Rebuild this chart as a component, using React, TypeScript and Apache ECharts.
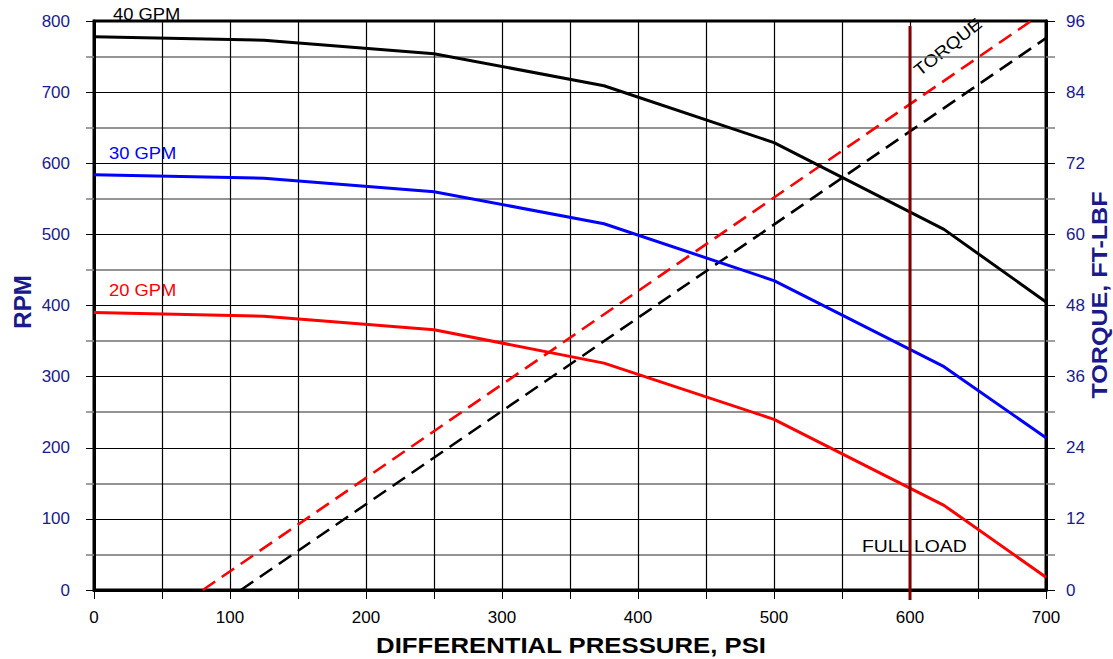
import React, { useEffect, useRef } from "react";
import * as echarts from "echarts";

const pressure = [0, 125, 250, 375, 500, 625, 700];
const rpm40 = [778, 773, 754, 709, 629, 507, 405];
const rpm30 = [584, 579, 560, 515, 435, 314, 214];
const rpm20 = [390, 385, 366, 319, 240, 119, 18];

const torqueRedX = [80, 689];
const torqueRedY = [0, 96];
const torqueBlackX = [108, 700];
const torqueBlackY = [0, 93.1];

const fullLoadX = [600, 600];
const fullLoadY = [-14, 793];

const NAVY = "#1a1a8c";
const FONT = "'Liberation Sans', Arial, sans-serif";

const pairs = (xs: number[], ys: number[]) => xs.map((x, i) => [x, ys[i]]);

export default function App() {
  const ref = useRef<HTMLDivElement>(null);
  useEffect(() => {
    if (!ref.current) return;
    const chart = echarts.init(ref.current, null, { renderer: "svg" });
    const curve = (name: string, ys: number[], color: string) => ({
      name,
      type: "line",
      yAxisIndex: 0,
      data: pairs(pressure, ys),
      symbol: "none",
      lineStyle: { color, width: 3 },
      z: 5,
    });
    const label = (text: string, x: number, y: number, fill: string) => ({
      type: "text",
      x,
      y,
      scaleX: 1.08,
      style: { text, fill, font: `17px ${FONT}`, align: "left", verticalAlign: "middle" },
    });
    chart.setOption({
      animation: false,
      backgroundColor: "#fff",
      textStyle: { fontFamily: FONT },
      grid: { left: 94, right: 67, top: 21, bottom: 69, show: true, borderColor: "#000", borderWidth: 3 },
      xAxis: {
        type: "value",
        min: 0,
        max: 700,
        interval: 100,
        axisLine: { lineStyle: { color: "#000", width: 3 } },
        axisTick: { show: true, length: 9, lineStyle: { color: "#000", width: 1 } },
        minorTick: { show: true, splitNumber: 2, length: 9, lineStyle: { color: "#000", width: 1 } },
        axisLabel: { color: "#000", fontSize: 17, margin: 19, fontFamily: FONT },
        splitLine: { show: true, lineStyle: { color: "#000", width: 1.2 } },
        minorSplitLine: { show: true, lineStyle: { color: "#000", width: 1.2 } },
      },
      yAxis: [
        {
          type: "value",
          min: 0,
          max: 800,
          interval: 100,
          axisLine: { show: true, lineStyle: { color: "#000", width: 3 } },
          axisTick: { show: true, length: 8, lineStyle: { color: "#000", width: 1 } },
          minorTick: { show: true, splitNumber: 2, length: 8, lineStyle: { color: "#808080", width: 1.5 } },
          axisLabel: { color: NAVY, fontSize: 17, margin: 24, fontFamily: FONT },
          splitLine: { show: true, lineStyle: { color: "#000", width: 1.2 } },
          minorSplitLine: { show: true, lineStyle: { color: "#707070", width: 1.6 } },
        },
        {
          type: "value",
          position: "right",
          min: 0,
          max: 96,
          interval: 12,
          axisLine: { show: true, lineStyle: { color: "#000", width: 3 } },
          axisTick: { show: true, length: 9, lineStyle: { color: "#000", width: 1 } },
          minorTick: { show: true, splitNumber: 2, length: 9, lineStyle: { color: "#808080", width: 1.5 } },
          axisLabel: { color: NAVY, fontSize: 17, margin: 20, fontFamily: FONT },
          splitLine: { show: false },
        },
      ],
      series: [
        curve("40 GPM", rpm40, "#000"),
        curve("30 GPM", rpm30, "#0000ff"),
        curve("20 GPM", rpm20, "#ff0000"),
        {
          name: "Torque (red)",
          type: "line",
          yAxisIndex: 1,
          data: pairs(torqueRedX, torqueRedY),
          symbol: "none",
          lineStyle: { color: "#ff0000", width: 2.6, type: [15, 8] },
          z: 4,
        },
        {
          name: "Torque (black)",
          type: "line",
          yAxisIndex: 1,
          data: pairs(torqueBlackX, torqueBlackY),
          symbol: "none",
          lineStyle: { color: "#000", width: 2.6, type: [15, 8] },
          z: 4,
        },
        {
          name: "Full load",
          type: "line",
          yAxisIndex: 0,
          data: pairs(fullLoadX, fullLoadY),
          symbol: "none",
          clip: false,
          lineStyle: { color: "#800000", width: 3 },
          z: 6,
        },
      ],
      graphic: [
        label("40 GPM", 113, 14, "#000"),
        label("30 GPM", 109, 153, "#0000ff"),
        label("20 GPM", 109, 290, "#ff0000"),
        { ...label("FULL LOAD", 862, 546, "#000"), scaleX: 1.14 },
        {
          type: "text",
          x: 948,
          y: 47,
          rotation: (38.6 * Math.PI) / 180,
          scaleX: 1.12,
          style: { text: "TORQUE", fill: "#000", font: `17px ${FONT}`, align: "center", verticalAlign: "middle" },
        },
        {
          type: "text",
          x: 22,
          y: 302,
          rotation: Math.PI / 2,
          style: { text: "RPM", fill: NAVY, font: `bold 24px ${FONT}`, align: "center", verticalAlign: "middle" },
        },
        {
          type: "text",
          x: 1100,
          y: 295,
          rotation: Math.PI / 2,
          scaleX: 1.14,
          style: { text: "TORQUE, FT-LBF", fill: NAVY, font: `bold 22px ${FONT}`, align: "center", verticalAlign: "middle" },
        },
        {
          type: "text",
          x: 571,
          y: 645,
          scaleX: 1.17,
          style: { text: "DIFFERENTIAL PRESSURE, PSI", fill: "#000", font: `bold 22px ${FONT}`, align: "center", verticalAlign: "middle" },
        },
      ],
    });
    return () => chart.dispose();
  }, []);
  return <div ref={ref} style={{ position: "absolute", left: 0, top: 0, width: 1113, height: 659, background: "#fff" }} />;
}
